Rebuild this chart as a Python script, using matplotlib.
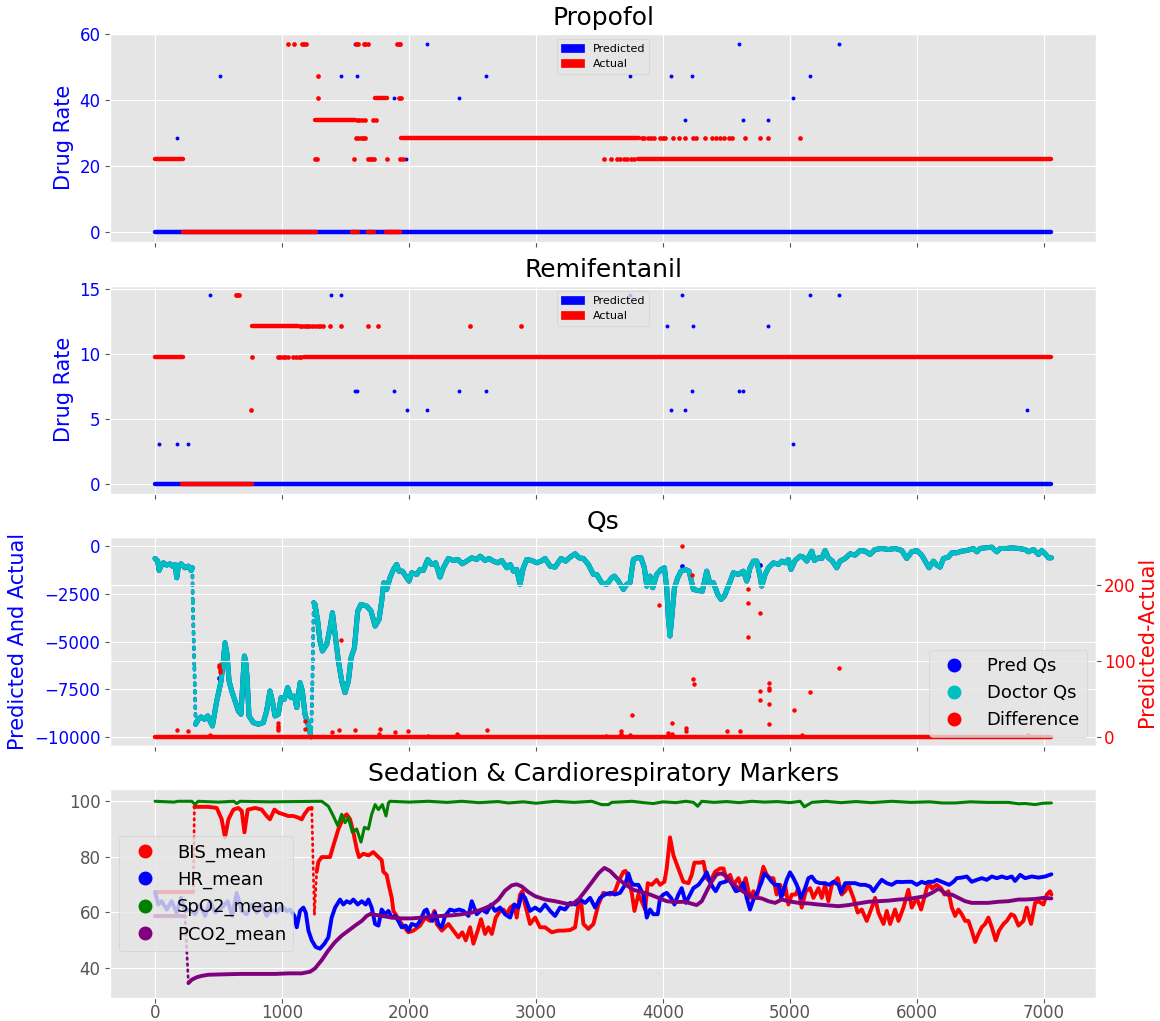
import matplotlib
matplotlib.use("Agg")
import numpy as np
import matplotlib.pyplot as plt
import matplotlib.patches as mpatches
from matplotlib.lines import Line2D

plt.style.use("ggplot")

T_END = 7058

# ---------------------------------------------------------------- Propofol
prop_pred_run_start = [0]
prop_pred_run_end = [T_END]
prop_pred_run_level = [0]
prop_pred_x = [174, 513, 1464, 1587, 2604, 3738, 4063, 4225, 5155,
               1572, 2142, 4602, 5383, 1881, 2391, 5026, 1980, 4175, 4632, 4830]
prop_pred_y = [28.5, 47.1, 47.1, 47.1, 47.1, 47.1, 47.1, 47.1, 47.1,
               56.9, 56.9, 56.9, 56.9, 40.5, 40.5, 40.5, 22.3, 33.9, 33.9, 33.9]

prop_act_run_start = [0, 219, 1260, 1554, 1674, 1731, 1815, 1938, 3804]
prop_act_run_end = [219, 1269, 1575, 1599, 1725, 1830, 1926, 3811, T_END]
prop_act_run_level = [22.3, 0, 33.9, 0, 0, 40.5, 0, 28.5, 22.3]
prop_act_x = [1050, 1095, 1155, 1170, 1185, 1584, 1596, 1644, 1656, 1680, 1908, 1920, 1932,
              1284, 1284, 1920, 1938,
              1590, 1610, 1630, 1650, 1719, 1740,
              1584, 1600, 1620, 1640, 1656, 3837, 3850, 3880, 3905, 3930, 3976, 4000,
              4019, 4079, 4129, 4172, 4235, 4258, 4327, 4384, 4417, 4450, 4483, 4516,
              4540, 4648, 4761, 4827, 5079,
              1260, 1275, 1566, 1674, 1690, 1710, 1725, 1824, 1932, 1950, 3533, 3589,
              3639, 3660, 3690, 3720, 3745, 3771]
prop_act_y = [56.9] * 13 + [47.1] + [40.5] * 3 + [33.9] * 6 + [28.5] * 29 + [22.3] * 18

# ------------------------------------------------------------ Remifentanil
remi_pred_run_start = [0]
remi_pred_run_end = [T_END]
remi_pred_run_level = [0]
remi_pred_x = [33, 177, 261, 5026,
               435, 1389, 1464, 3738, 4149, 5155, 5383,
               1578, 1590, 1881, 2391, 2604, 4225, 4602, 4632,
               1983, 2142, 4063, 4175, 6866,
               4033, 4235, 4830]
remi_pred_y = [3.11] * 4 + [14.51] * 7 + [7.13] * 8 + [5.69] * 5 + [12.12] * 3

remi_act_run_start = [0, 210, 765, 1170]
remi_act_run_end = [219, 765, 1125, T_END]
remi_act_run_level = [9.75, 0, 12.12, 9.75]
remi_act_x = [636, 648, 660,
              1140, 1160, 1180, 1200, 1215, 1240, 1260, 1280, 1300, 1320, 1380, 1461,
              1674, 1755, 2484, 2880,
              765, 966, 985, 1005, 1020, 1050, 1086, 1110, 1130, 1150,
              759]
remi_act_y = [14.51] * 3 + [12.12] * 16 + [9.75] * 10 + [5.69]

# ---------------------------------------------------------------------- Qs
doc_qs_x = [0, 21, 32, 47, 66, 92, 118, 137, 158, 171, 184, 205, 236, 263, 284, 294,
            297, 310, 320, 341, 362, 389, 415, 433, 452, 486, 520, 538, 551, 567, 583,
            604, 630, 656, 677, 693, 704, 714, 725, 740, 774, 814, 853, 879, 905, 924,
            945, 971, 992, 1018, 1045, 1071, 1097, 1116, 1142, 1160, 1181, 1208, 1229,
            1239, 1250, 1260, 1281, 1299, 1318, 1352, 1378, 1397, 1418, 1444, 1470, 1496,
            1523, 1544, 1570, 1596, 1622, 1667, 1701, 1733, 1764, 1785, 1801, 1824, 1850,
            1877, 1903, 1921, 1948, 1982, 2000, 2021, 2061, 2087, 2113, 2147, 2179, 2210,
            2244, 2270, 2310, 2349, 2384, 2420, 2454, 2494, 2533, 2560, 2599, 2630, 2664,
            2699, 2730, 2770, 2796, 2822, 2848, 2874, 2900, 2927, 2966, 3006, 3040, 3071,
            3111, 3150, 3197, 3234, 3268, 3308, 3339, 3373, 3412, 3452, 3478, 3517, 3557,
            3596, 3617, 3649, 3688, 3714, 3740, 3767, 3793, 3827, 3853, 3872, 3898, 3919,
            3950, 3985, 4011, 4029, 4042, 4055, 4069, 4090, 4116, 4142, 4174, 4205, 4239,
            4273, 4310, 4344, 4370, 4397, 4431, 4457, 4483, 4520, 4554, 4594, 4633, 4659,
            4685, 4712, 4738, 4764, 4777, 4804, 4830, 4869, 4909, 4935, 4961, 4987, 5008,
            5040, 5079, 5105, 5132, 5171, 5192, 5224, 5250, 5276, 5302, 5334, 5368, 5394,
            5434, 5473, 5512, 5552, 5591, 5630, 5670, 5722, 5775, 5827, 5880, 5919, 5958,
            5998, 6037, 6064, 6095, 6129, 6156, 6182, 6208, 6247, 6274, 6313, 6352, 6392,
            6444, 6471, 6497, 6536, 6589, 6628, 6654, 6707, 6746, 6799, 6851, 6877, 6917,
            6956, 6982, 7009, 7035, 7058]
doc_qs_y = [-646, -785, -1274, -1047, -872, -995, -925, -1047, -960, -1658, -1047, -925,
            -1134, -1047, -1274, -1134,
            -2880, -6370, -9336, -9074, -8952, -9074, -8900, -9162, -9423, -8114, -7067,
            -6020, -5060, -5671, -7067, -7591, -8114, -8638, -8813, -6893, -5758, -6020,
            -6893, -8900, -9249, -9336, -9249, -8638, -7591, -8114, -8900, -8813, -7940,
            -8027, -7416, -7940, -7853, -8463, -7154, -7591, -8813, -9423, -10000,
            -7242, -2966, -3054, -3926, -4973, -5496, -5147, -4275, -3490, -4624, -6020,
            -7067, -7678, -7067, -5845, -5322, -3403, -3054, -3141, -3403, -4188, -3839,
            -2879, -1920, -2268, -1658, -1221, -960, -1309, -1309, -1658, -1832, -1396,
            -1483, -1221, -1274, -698, -960, -872, -1623, -1134, -646, -750, -698, -925,
            -785, -611, -698, -524, -750, -646, -785, -872, -750, -1134, -960, -1309,
            -1221, -2006, -1134, -698, -750, -872, -785, -646, -1047, -1099, -646, -785,
            -576, -401, -611, -646, -960, -1483, -1483, -1920, -2007, -1658, -1570, -1832,
            -2268, -2007, -1920, -698, -611, -611, -1134, -2094, -1570, -2181, -1483,
            -1221, -1134, -2181, -3752, -4711, -3752, -2181, -1658, -1309, -1221, -1309,
            -2268, -2321, -2356, -1309, -1972, -1920, -2530, -2792, -2617, -2007, -1396,
            -1483, -1309, -1832, -1134, -785, -785, -1570, -2094, -1483, -1134, -872,
            -960, -785, -872, -698, -1221, -750, -524, -576, -785, -262, -750, -611,
            -646, -227, -611, -785, -1134, -785, -646, -401, -471, -227, -262, -436,
            -175, -122, -175, -122, -227, -646, -297, -227, -471, -785, -1134, -785,
            -995, -1099, -646, -576, -349, -349, -262, -227, -122, -297, -122, -87, -52,
            -297, -122, -122, -87, -122, -175, -297, -175, -436, -227, -401, -611, -611]

# predicted Qs follows the doctor's trace except at these steps
pred_qs_dev_x = [507, 4152, 4672, 4764]
pred_qs_dev_y = [-6893, -1064, -1570, -995]

diff_run_start = [0]
diff_run_end = [T_END]
diff_run_level = [0]
diff_x = [173, 263, 433, 505, 507, 509, 510, 966, 966, 966, 966, 1181, 1181, 1391,
          1449, 1465, 1575, 1764, 1775, 1890, 1990, 2152, 2378, 2394, 2615, 3549,
          3670, 3670, 3670, 3743, 3754, 3969, 4037, 4069, 4074, 4152, 4181, 4184,
          4226, 4237, 4244, 4502, 4607, 4670, 4670, 4670, 4761, 4761, 4764, 4838,
          4838, 4838, 4838, 4838, 5032, 5095, 5158, 5386, 6872]
diff_y = [9.6, 8.3, 3.5, 95, 92, 89, 86, 19, 15, 12, 9, 21, 10.5, 7,
          10, 128.5, 10, 4.8, 11.4, 7.5, 8.3, 1.8, 4.8, 2.2, 9.6, 1.8,
          8.8, 5, 3.5, 3.5, 29.4, 174, 5.3, 4.8, 18.9, 251, 12.3, 7.9,
          214, 76.8, 69.7, 7.9, 7.9, 195.6, 176.8, 132, 60.5, 48.7, 163.6, 71.5,
          65, 62.7, 43.4, 17.1, 36.4, 3.5, 59.2, 90.8, 3.5]

# ----------------------------------------------------------------- markers
bis_x = [0, 302, 310, 315, 420, 486, 525, 551, 578, 617, 656, 683, 704, 730, 788, 840,
         879, 905, 940, 971, 1011, 1050, 1089, 1129, 1155, 1176, 1208, 1234, 1255, 1265,
         1273, 1286, 1313, 1378, 1404, 1444, 1483, 1509, 1536, 1562, 1588, 1606, 1641,
         1680, 1719, 1759, 1785, 1798, 1824, 1843, 1864, 1877, 1903, 1942, 1995, 2034,
         2087, 2126, 2166, 2200, 2218, 2258, 2310, 2349, 2389, 2420, 2447, 2481, 2507,
         2541, 2567, 2599, 2625, 2652, 2683, 2717, 2743, 2770, 2796, 2830, 2848, 2874,
         2893, 2914, 2953, 2993, 3032, 3071, 3124, 3176, 3216, 3268, 3308, 3334, 3355,
         3373, 3412, 3452, 3491, 3530, 3583, 3622, 3649, 3688, 3706, 3727, 3754, 3775,
         3806, 3832, 3859, 3880, 3911, 3950, 3977, 4011, 4029, 4055, 4082, 4121, 4160,
         4200, 4226, 4247, 4292, 4318, 4344, 4370, 4410, 4449, 4476, 4502, 4528, 4554,
         4594, 4620, 4651, 4685, 4712, 4738, 4764, 4790, 4817, 4843, 4869, 4895, 4922,
         4948, 4961, 4987, 5014, 5045, 5066, 5092, 5124, 5158, 5184, 5224, 5250, 5276,
         5302, 5329, 5376, 5407, 5434, 5460, 5499, 5533, 5565, 5604, 5644, 5670, 5696,
         5736, 5762, 5788, 5827, 5854, 5893, 5932, 5959, 5998, 6032, 6064, 6090, 6116,
         6156, 6190, 6216, 6247, 6274, 6300, 6326, 6352, 6379, 6405, 6431, 6458, 6484,
         6510, 6536, 6562, 6589, 6620, 6646, 6681, 6707, 6741, 6767, 6799, 6838, 6864,
         6883, 6898, 6930, 6956, 6995, 7022, 7048, 7058]
bis_y = [67.3, 67.3, 98, 98, 98, 97.6, 93.5, 87, 93.5, 97, 97.6, 96.5, 88.8, 97, 97.6, 97,
         94.7, 93.5, 97, 95.9, 95.3, 94.7, 94.7, 94.1, 93.5, 95.3, 97.3, 97.6, 59.3, 68,
         74.6, 78.2, 79.9, 79.9, 84, 90, 94.1, 95.3, 93.5, 88.8, 82.9, 79.9, 81.1,
         80.5, 81.7, 79.9, 78.8, 74.6, 73.5, 69.3, 65.2, 60.5, 58.7, 55.8, 52.8, 53.4,
         55.2, 58.1, 56.9, 60.5, 55.8, 53.4, 55.8, 53.4, 51, 52.8, 49.9, 54.6, 48.7,
         53.4, 57.5, 52.2, 54.6, 52.2, 58.1, 60.5, 61, 59.3, 61.7, 62.8, 58.1, 66.4,
         67.6, 62.8, 55.8, 58.1, 54.6, 54.6, 52.8, 53.4, 53.4, 53.6, 54.6, 62.8, 64,
         55.8, 54, 55.8, 62.8, 67, 66.4, 67.6, 71, 74.6, 74.9, 72.3, 67, 60.5,
         66.4, 64, 61, 70.5, 69.9, 71.7, 69.9, 71, 75.8, 87, 80.5, 75.8, 71,
         70.5, 73.5, 77.9, 77.9, 78.2, 72.3, 71, 74.6, 75.8, 75.8, 71.7, 73.5, 69.9,
         72.3, 68.7, 72.3, 65.2, 67.6, 65.2, 71, 76.4, 73.5, 72.3, 72.3, 66.4, 69.9,
         66.4, 69.9, 62.8, 66.4, 66.4, 68.7, 61.7, 67.6, 68.7, 65.2, 68.7, 65.2, 69.9,
         64, 69.9, 72.3, 66.4, 67.6, 69.9, 65.2, 59.9, 61, 56.9, 61.7, 65.2, 59.9,
         55.8, 60.5, 55.8, 61, 56.9, 61.7, 68.1, 61.7, 65.2, 61, 66.4, 71, 68.7,
         69.9, 68.7, 66.4, 67.6, 61.7, 58.7, 61, 59.3, 56.9, 56.9, 53.4, 49.3, 52.2,
         54.6, 55.8, 58.1, 54.6, 49.9, 53.4, 55.8, 56.9, 59.3, 58.7, 55.2, 56.9, 61.7,
         58.1, 55.8, 63.4, 64, 62.8, 66.4, 67.6, 66.4]

hr_x = [0, 26, 52, 92, 131, 171, 205, 236, 276, 315, 354, 394, 433, 473, 525, 572, 609,
        643, 683, 722, 761, 801, 840, 879, 919, 958, 998, 1037, 1063, 1097, 1116, 1142,
        1168, 1187, 1208, 1234, 1265, 1299, 1334, 1365, 1391, 1418, 1457, 1483, 1509,
        1536, 1562, 1596, 1628, 1659, 1680, 1706, 1733, 1759, 1785, 1811, 1838, 1864,
        1890, 1916, 1942, 1974, 1995, 2021, 2061, 2087, 2121, 2139, 2158, 2184, 2205,
        2231, 2258, 2284, 2323, 2357, 2394, 2428, 2468, 2494, 2533, 2573, 2612, 2646,
        2678, 2717, 2756, 2796, 2830, 2861, 2888, 2914, 2953, 2993, 3032, 3071, 3111,
        3150, 3189, 3229, 3268, 3308, 3347, 3386, 3426, 3465, 3504, 3544, 3583, 3622,
        3662, 3701, 3727, 3748, 3767, 3806, 3845, 3872, 3898, 3924, 3958, 3977, 4003,
        4029, 4063, 4090, 4121, 4147, 4179, 4213, 4239, 4279, 4318, 4344, 4370, 4397,
        4415, 4449, 4489, 4520, 4546, 4573, 4607, 4633, 4659, 4685, 4712, 4746, 4777,
        4798, 4824, 4856, 4882, 4909, 4930, 4948, 4974, 5000, 5027, 5053, 5087, 5119,
        5145, 5171, 5203, 5237, 5276, 5308, 5342, 5381, 5402, 5434, 5473, 5512, 5552,
        5591, 5630, 5657, 5691, 5722, 5762, 5801, 5840, 5880, 5919, 5959, 5998, 6037,
        6064, 6095, 6129, 6156, 6195, 6221, 6253, 6287, 6313, 6352, 6392, 6431, 6471,
        6510, 6549, 6589, 6628, 6668, 6707, 6746, 6772, 6812, 6851, 6904, 6956, 7009,
        7058]
hr_y = [67.3, 62.8, 64, 61, 64, 59.9, 65.2, 60.5, 61, 59.3, 62.8, 58.7, 64, 59.9, 61.7,
        64, 58.7, 67, 60.5, 59.3, 62.8, 59.9, 62.8, 58.7, 61, 59.9, 62.2, 60.5, 61, 58.7,
        54.6, 60.5, 61.7, 59.9, 53.4, 49.9, 47.5, 46.9, 48.7, 51, 58.1, 61.7, 64.6, 62.8,
        64, 63.4, 64.6, 62.8, 64, 62.8, 64.6, 61.7, 55.8, 55.2, 61, 59.3, 60.5, 58.1,
        58.7, 56.9, 54.6, 55.2, 53.4, 55.8, 55.2, 56.9, 60.5, 61, 58.7, 56.9, 59.9,
        55.8, 54.6, 58.7, 61, 60.5, 61, 60.5, 58.7, 64, 59.3, 61, 59.9, 62.8,
        60.5, 61.7, 59.3, 58.1, 62.8, 61.7, 66.4, 65.2, 60.5, 61.7, 60.5, 62.8, 60.5,
        58.7, 61.7, 61, 63.4, 62.8, 64.6, 63.4, 65.2, 61.7, 65.2, 66.4, 67, 66.4,
        67, 69.9, 74, 71, 69.9, 69.9, 66.4, 58.1, 61, 59.3, 59.3, 65.2, 66.4,
        67, 65.2, 62.8, 66.4, 68.7, 63.4, 66.4, 68.7, 69.9, 72.3, 74.4, 71, 68.7,
        67.6, 70.5, 71, 71.7, 69.9, 67.6, 68.1, 70.5, 65.2, 61, 64.6, 67.6, 71,
        74, 72.9, 71, 69.9, 69.9, 65.2, 67.6, 71.7, 74.4, 72.3, 69.9, 65.2, 68.7,
        72.3, 72.9, 71, 70.5, 70.5, 69.9, 71, 69.9, 67, 70.5, 70.5, 70.5, 69.9,
        69.9, 69.3, 67.6, 69.9, 71.7, 70.5, 69.9, 71, 70.9, 71, 71, 69.9, 71,
        70.5, 71, 71, 71.7, 71, 70.5, 69.9, 71, 72.3, 72.5, 72.9, 71, 71.7,
        72.3, 71.7, 72.9, 72.3, 72.9, 72.3, 72.9, 71.3, 73.5, 72.3, 72.9, 72.5, 72.9,
        73.7]

spo2_x = [0, 150, 180, 290, 315, 340, 500, 620, 643, 670, 900, 1313, 1365, 1404, 1439,
          1470, 1496, 1523, 1554, 1588, 1622, 1649, 1680, 1706, 1733, 1759, 1790, 1819,
          1838, 1850, 2000, 2150, 2300, 2415, 2550, 2700, 2783, 2900, 3000, 3150, 3300,
          3439, 3517, 3570, 3596, 3680, 3754, 3850, 3924, 4000, 4100, 4180, 4240, 4273,
          4305, 4400, 4500, 4600, 4700, 4800, 4900, 5000, 5080, 5113, 5171, 5280, 5400,
          5520, 5640, 5801, 5950, 6100, 6200, 6300, 6420, 6550, 6720, 6800, 6851, 6930,
          6990, 7058]
spo2_y = [100, 99.7, 100, 100, 98.9, 100, 99.7, 100, 99.2, 100, 99.8, 100, 98.2, 94.7,
          91.2, 95.3, 92.3, 94.1, 88.8, 90, 85.3, 90.6, 90, 95.3, 98.8, 97, 98.8, 94.7,
          99.4, 100, 99.7, 100, 99.6, 100, 99.5, 99.9, 99.4, 99.8, 99.3, 100, 99.6,
          100, 98.8, 98.8, 99.6, 99.8, 100, 99.5, 99.2, 99.8, 99.5, 100, 99.6, 98.2,
          100, 99.6, 99.9, 99.5, 100, 99.7, 99.9, 99.5, 100, 98, 99.6, 100, 99.5,
          99.9, 99.5, 100, 99.6, 99.8, 99.4, 99.4, 99.8, 99.6, 99.6, 99.1, 99.2, 98.8,
          99.3, 99.4]

pco2_x = [0, 236, 263, 289, 328, 368, 420, 499, 578, 683, 814, 945, 1050, 1155, 1221,
          1260, 1313, 1365, 1418, 1470, 1523, 1575, 1628, 1667, 1701, 1733, 1785, 1864,
          1942, 2021, 2100, 2179, 2258, 2336, 2415, 2494, 2573, 2652, 2704, 2756, 2809,
          2848, 2888, 2940, 2993, 3071, 3150, 3229, 3281, 3334, 3386, 3439, 3491, 3538,
          3583, 3635, 3701, 3767, 3832, 3898, 3964, 4029, 4095, 4174, 4226, 4265, 4305,
          4344, 4384, 4423, 4462, 4502, 4541, 4594, 4646, 4712, 4777, 4830, 4882, 4935,
          4987, 5066, 5145, 5224, 5302, 5381, 5460, 5539, 5617, 5696, 5775, 5854, 5932,
          6011, 6064, 6116, 6169, 6195, 6234, 6274, 6326, 6379, 6431, 6484, 6562, 6641,
          6720, 6799, 6851, 6930, 6995, 7058]
pco2_y = [58.7, 58.7, 34.5, 35.7, 36.6, 37.1, 37.5, 37.6, 37.7, 37.8, 37.8, 37.8, 38, 38,
          38.6, 39.8, 42.8, 46.3, 49.3, 51.6, 53.4, 55.2, 56.9, 58.7, 59.5, 59.1, 58.7,
          58.1, 57.8, 57.8, 58.1, 58.3, 58.7, 58.9, 59.3, 59.9, 61, 62.6, 64.6, 67.8,
          69.7, 70.1, 69.3, 67.3, 65.8, 64.6, 64, 63.2, 62.8, 64.6, 67.6, 70.8, 74, 76,
          74.9, 72.5, 70.1, 68.1, 67.3, 66.4, 65.2, 64, 63.7, 63.8, 63.1, 62.6, 64,
          67.6, 71.1, 73.7, 74, 72.9, 70.5, 68.7, 67, 65.4, 65, 64, 63.4, 64.6,
          64, 63.4, 63.2, 62.8, 62.5, 62.2, 62.6, 63.2, 63.8, 64, 64.2, 64.6, 64.8,
          65.4, 65.8, 67, 68.5, 67.8, 66.4, 66.4, 65.2, 64, 63.4, 63.4, 63.4, 63.8,
          64, 64.6, 64.6, 64.8, 65.2, 65]

TICK_FS = 12
LABEL_FS = 15
TITLE_FS = 18


def trace(ax, xs, ys, color, lw, steep):
    """Solid line for the sampled signal; steep jumps drawn as sparse dots."""
    xs = np.asarray(xs, float)
    ys = np.asarray(ys, float)
    slope = np.abs(np.diff(ys)) / np.maximum(np.diff(xs), 1e-9)
    jump = slope > steep
    start = 0
    for i in range(len(jump) + 1):
        if i == len(jump) or jump[i]:
            if i > start:
                ax.plot(xs[start:i + 1], ys[start:i + 1], color=color, lw=lw,
                        solid_capstyle="round", solid_joinstyle="round")
            if i < len(jump):
                ax.plot(xs[i:i + 2], ys[i:i + 2], color=color, lw=lw * 0.7,
                        ls=(0, (0.6, 1.6)), dash_capstyle="round")
            start = i + 1


fig, axes = plt.subplots(4, 1, sharex=True, figsize=(11.6, 10.21), dpi=100)
fig.subplots_adjust(left=0.095, right=0.945, top=0.967, bottom=0.023, hspace=0.21)


def drug_panel(ax, title, p_start, p_end, p_level, p_x, p_y,
               a_start, a_end, a_level, a_x, a_y, yticks):
    ax.hlines(p_level, p_start, p_end, colors="blue", lw=3.2, capstyle="round")
    ax.plot(p_x, p_y, "o", color="blue", ms=2.8, mew=0)
    ax.hlines(a_level, a_start, a_end, colors="red", lw=3.2, capstyle="round")
    ax.plot(a_x, a_y, "o", color="red", ms=3.4, mew=0)
    ax.set_title(title, fontsize=TITLE_FS)
    ax.set_ylabel("Drug Rate", color="blue", fontsize=LABEL_FS)
    ax.set_yticks(yticks)
    ax.tick_params(axis="y", labelcolor="blue", labelsize=TICK_FS)
    handles = [mpatches.Patch(color="blue", label="Predicted"),
               mpatches.Patch(color="red", label="Actual")]
    ax.legend(handles=handles, loc="upper center", fontsize=8)


drug_panel(axes[0], "Propofol",
           prop_pred_run_start, prop_pred_run_end, prop_pred_run_level,
           prop_pred_x, prop_pred_y,
           prop_act_run_start, prop_act_run_end, prop_act_run_level,
           prop_act_x, prop_act_y, [0, 20, 40, 60])
drug_panel(axes[1], "Remifentanil",
           remi_pred_run_start, remi_pred_run_end, remi_pred_run_level,
           remi_pred_x, remi_pred_y,
           remi_act_run_start, remi_act_run_end, remi_act_run_level,
           remi_act_x, remi_act_y, [0, 5, 10, 15])

# Qs panel with the difference on a twin axis
ax = axes[2]
trace(ax, doc_qs_x, doc_qs_y, "blue", 3.6, 250)
ax.plot(pred_qs_dev_x, pred_qs_dev_y, "o", color="blue", ms=3.4, mew=0)
trace(ax, doc_qs_x, doc_qs_y, "c", 3.6, 250)
ax.set_ylim(-10456, 456)
ax.set_yticks([-10000, -7500, -5000, -2500, 0])
ax.set_title("Qs", fontsize=TITLE_FS)
ax.set_ylabel("Predicted And Actual", color="blue", fontsize=LABEL_FS)
ax.tick_params(axis="y", labelcolor="blue", labelsize=TICK_FS)

ax2 = ax.twinx()
ax2.hlines(diff_run_level, diff_run_start, diff_run_end, colors="red", lw=3.2,
           capstyle="round")
ax2.plot(diff_x, diff_y, "o", color="red", ms=3.2, mew=0)
ax2.set_ylim(-10.9, 262.8)
ax2.set_yticks([0, 100, 200])
ax2.set_ylabel("Predicted-Actual", color="red", fontsize=LABEL_FS, labelpad=1)
ax2.tick_params(axis="y", labelcolor="red", labelsize=TICK_FS, pad=2)
qs_handles = [Line2D([], [], ls="none", marker="o", ms=9, color=c, label=l)
              for c, l in [("blue", "Pred Qs"), ("c", "Doctor Qs"), ("red", "Difference")]]
ax2.legend(handles=qs_handles, loc="lower right", fontsize=13)

# vital signs
ax = axes[3]
trace(ax, bis_x, bis_y, "red", 2.8, 0.7)
trace(ax, hr_x, hr_y, "blue", 2.8, 0.7)
trace(ax, spo2_x, spo2_y, "green", 2.2, 0.7)
trace(ax, pco2_x, pco2_y, "purple", 2.8, 0.5)
ax.set_ylim(29.3, 104.3)
ax.set_yticks([40, 60, 80, 100])
ax.set_title("Sedation & Cardiorespiratory Markers", fontsize=TITLE_FS)
ax.tick_params(labelsize=TICK_FS)
ax.tick_params(axis="x", pad=1.5)
vit_handles = [Line2D([], [], ls="none", marker="o", ms=9, color=c, label=l)
               for c, l in [("red", "BIS_mean"), ("blue", "HR_mean"),
                            ("green", "SpO2_mean"), ("purple", "PCO2_mean")]]
ax.legend(handles=vit_handles, loc="center left", fontsize=13)

ax.set_xticks(range(0, 8000, 1000))

fig.savefig("out.png", dpi=100)
